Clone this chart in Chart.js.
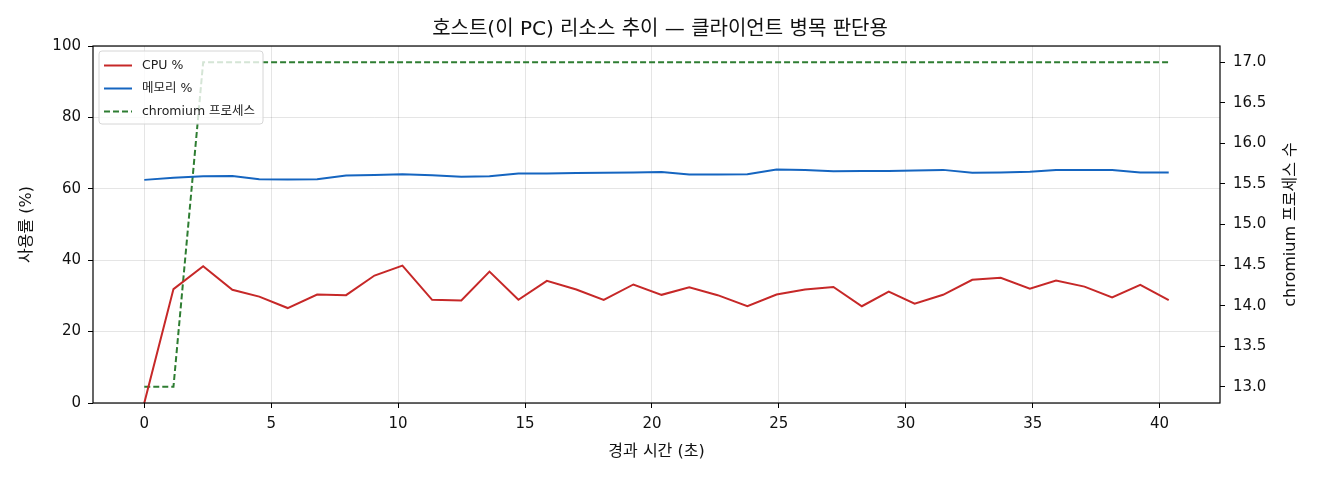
<!DOCTYPE html>
<html>
<head>
<meta charset="utf-8">
<script src="https://cdn.jsdelivr.net/npm/chart.js@4"></script>
<style>
  html, body { margin: 0; padding: 0; background: #fff; }
  #wrap { width: 1320px; height: 480px; }
</style>
</head>
<body>
<div id="wrap"><canvas id="hostChart" width="1320" height="480"></canvas></div>
<script>
// 경과 시간 (초)
const elapsed = [0, 1.15, 2.32, 3.47, 4.53, 5.65, 6.81, 7.95, 9.07, 10.17, 11.34, 12.49, 13.6, 14.74, 15.86, 17.02, 18.1, 19.27,
    20.38, 21.47, 22.59, 23.76, 24.91, 26.03, 27.15, 28.27, 29.33, 30.35, 31.47, 32.62, 33.74, 34.89, 35.92, 37.04, 38.13, 39.24, 40.36];
const cpuPct = [0, 31.9, 38.3, 31.7, 29.8, 26.6, 30.4, 30.2, 35.7, 38.5, 28.9, 28.7, 36.8, 28.9, 34.2, 31.8, 28.9, 33.2,
    30.3, 32.4, 30.2, 27.1, 30.4, 31.8, 32.5, 27.1, 31.2, 27.8, 30.3, 34.5, 35.1, 32.0, 34.3, 32.6, 29.6, 33.1, 28.8];
const memPct = [62.5, 63.1, 63.5, 63.6, 62.7, 62.6, 62.7, 63.7, 63.9, 64.1, 63.8, 63.4, 63.5, 64.3, 64.3, 64.4, 64.5, 64.6,
    64.7, 64.0, 64.0, 64.1, 65.4, 65.3, 64.9, 65.0, 65.0, 65.1, 65.3, 64.5, 64.6, 64.8, 65.3, 65.3, 65.3, 64.6, 64.6];
const chromiumProcs = [13, 13, 17, 17, 17, 17, 17, 17, 17, 17, 17, 17, 17, 17, 17, 17, 17, 17,
    17, 17, 17, 17, 17, 17, 17, 17, 17, 17, 17, 17, 17, 17, 17, 17, 17, 17, 17];

const xTicks = [0, 5, 10, 15, 20, 25, 30, 35, 40];
const yTicks = [0, 20, 40, 60, 80, 100];
const y1Ticks = [13.0, 13.5, 14.0, 14.5, 15.0, 15.5, 16.0, 16.5, 17.0];

const FONT = "'DejaVu Sans', 'Noto Sans CJK KR', sans-serif";
const rightTitle = "chromium 프로세스 수";

function toPoints(ys) {
    return elapsed.map((t, i) => ({ x: t, y: ys[i] }));
}

function fixTicks(values) {
    return scale => { scale.ticks = values.map(v => ({ value: v })); };
}

// 축 테두리 + 오른쪽 축 제목 (아래→위 방향)
const frame = {
    id: "frame",
    afterDatasetsDraw(chart) {
        const { ctx, chartArea: a } = chart;
        ctx.save();
        ctx.strokeStyle = "#000";
        ctx.lineWidth = 1.2;
        ctx.strokeRect(a.left, a.top, a.right - a.left, a.bottom - a.top);
        ctx.translate(1291, (a.top + a.bottom) / 2);
        ctx.rotate(-Math.PI / 2);
        ctx.font = "16px " + FONT;
        ctx.fillStyle = "#111";
        ctx.textAlign = "center";
        ctx.textBaseline = "middle";
        ctx.fillText(rightTitle, 0, 0);
        ctx.restore();
    }
};

// 범례를 그래프 안쪽 왼쪽 위에 그림
const innerLegend = {
    id: "innerLegend",
    afterDraw(chart) {
        const { ctx, chartArea: a } = chart;
        const x0 = a.left + 6, y0 = a.top + 5;
        const w = 164, rowH = 23, h = 73;
        ctx.save();
        ctx.fillStyle = "rgba(255,255,255,0.8)";
        ctx.strokeStyle = "#d6d6d6";
        ctx.lineWidth = 1;
        ctx.beginPath();
        ctx.roundRect(x0, y0, w, h, 3);
        ctx.fill();
        ctx.stroke();
        ctx.font = "12.5px " + FONT;
        ctx.textBaseline = "middle";
        chart.data.datasets.forEach((ds, i) => {
            const cy = y0 + 14.5 + i * rowH;
            ctx.strokeStyle = ds.borderColor;
            ctx.lineWidth = 2;
            ctx.setLineDash(ds.borderDash || []);
            ctx.beginPath();
            ctx.moveTo(x0 + 5, cy);
            ctx.lineTo(x0 + 33, cy);
            ctx.stroke();
            ctx.setLineDash([]);
            ctx.fillStyle = "#222";
            ctx.fillText(ds.label, x0 + 43, cy);
        });
        ctx.restore();
    }
};

const ctx = document.getElementById("hostChart").getContext("2d");

new Chart(ctx, {
    type: "line",
    data: {
        datasets: [
            {
                label: "CPU %",
                data: toPoints(cpuPct),
                borderColor: "#c62828",
                borderWidth: 2,
                pointRadius: 0,
                yAxisID: "y"
            },
            {
                label: "메모리 %",
                data: toPoints(memPct),
                borderColor: "#1565c0",
                borderWidth: 2,
                pointRadius: 0,
                yAxisID: "y"
            },
            {
                label: "chromium 프로세스",
                data: toPoints(chromiumProcs),
                borderColor: "#2e7d32",
                borderWidth: 2,
                borderDash: [6, 3],
                pointRadius: 0,
                yAxisID: "y1"
            }
        ]
    },
    options: {
        responsive: false,
        animation: false,
        layout: { padding: 0 },
        plugins: {
            legend: { display: false },
            tooltip: { enabled: false },
            title: {
                display: true,
                text: "호스트(이 PC) 리소스 추이 — 클라이언트 병목 판단용",
                color: "#111",
                font: { family: FONT, size: 20, weight: "normal", lineHeight: 1.2 },
                padding: { top: 18, bottom: 4 }
            }
        },
        scales: {
            x: {
                type: "linear",
                min: -2.02,
                max: 42.38,
                afterBuildTicks: fixTicks(xTicks),
                afterFit: s => { s.height = 77; },
                ticks: { color: "#111", font: { family: FONT, size: 15 }, padding: 7 },
                grid: { color: "rgba(0,0,0,0.1)", tickColor: "#000", tickLength: 5 },
                border: { display: false },
                title: {
                    display: true,
                    text: "경과 시간 (초)",
                    color: "#111",
                    font: { family: FONT, size: 16 },
                    padding: { top: 0, bottom: 19 }
                }
            },
            y: {
                position: "left",
                min: 0,
                max: 100,
                afterBuildTicks: fixTicks(yTicks),
                afterFit: s => { s.width = 93; },
                ticks: { color: "#111", font: { family: FONT, size: 15 }, padding: 7 },
                grid: { color: "rgba(0,0,0,0.1)", tickColor: "#000", tickLength: 5 },
                border: { display: false },
                title: {
                    display: true,
                    text: "사용률 (%)",
                    color: "#111",
                    font: { family: FONT, size: 16 },
                    padding: { top: 17, bottom: 0 }
                }
            },
            y1: {
                position: "right",
                min: 12.8,
                max: 17.2,
                afterBuildTicks: fixTicks(y1Ticks),
                afterFit: s => { s.width = 100; },
                ticks: {
                    color: "#111",
                    font: { family: FONT, size: 15 },
                    padding: 8,
                    callback: v => v.toFixed(1)
                },
                grid: { drawOnChartArea: false, tickColor: "#000", tickLength: 5 },
                border: { display: false }
            }
        }
    },
    plugins: [frame, innerLegend]
});
</script>
</body>
</html>
